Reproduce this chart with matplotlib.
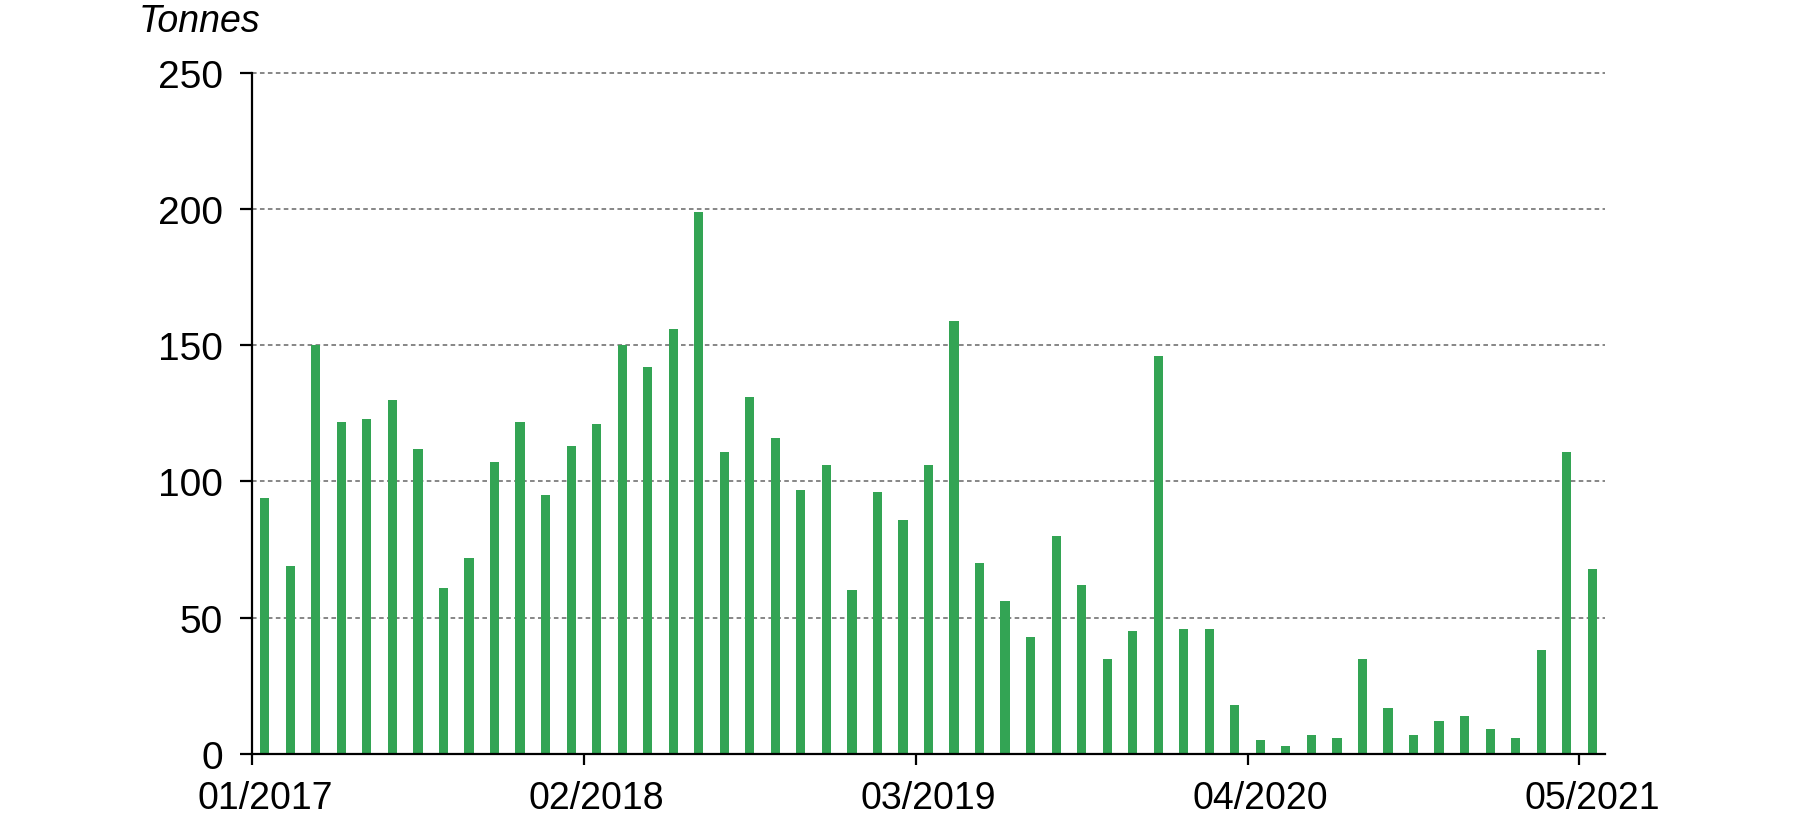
import matplotlib
matplotlib.use("Agg")
import matplotlib.pyplot as plt
import numpy as np

plt.rcParams['font.family'] = ['Liberation Sans', 'DejaVu Sans']

months = [f"{m:02d}/{y}" for y in range(2017, 2022) for m in range(1, 13)][:53]
values = [94, 69, 150, 122, 123, 130, 112, 61, 72, 107, 122, 95,
          113, 121, 150, 142, 156, 199, 111, 131, 116, 97, 106, 60,
          96, 86, 106, 159, 70, 56, 43, 80, 62, 35, 45, 146,
          46, 46, 18, 5, 3, 7, 6, 35, 17, 7, 12, 14,
          9, 6, 38, 111, 68]
tick_labels = ["01/2017", "02/2018", "03/2019", "04/2020", "05/2021"]
y_ticks = [0, 50, 100, 150, 200, 250]
unit_label = "Tonnes"

fig = plt.figure(figsize=(18.07, 8.2), dpi=100)
ax = fig.add_axes([252/1807, 1-755/820, (1605-252)/1807, (755-73.7)/820])

x = np.arange(len(values))
ax.bar(x, values, width=0.36, color='#33a454', zorder=3)

ax.set_xlim(-0.5, len(values) - 0.5)
ax.set_ylim(0, 250)
ax.set_yticks(y_ticks)
ax.set_yticklabels([str(v) for v in y_ticks])

label_pos = [months.index(t) for t in tick_labels]
ax.set_xticks([p - 0.5 for p in label_pos])
ax.set_xticklabels([''] * len(label_pos))
ax.set_xticks(label_pos, minor=True)
ax.set_xticklabels(tick_labels, minor=True)

for v in y_ticks[1:]:
    ax.axhline(v, color='#666666', lw=1.1, ls=(0, (3, 2.2)), zorder=1, clip_on=False)

for s in ['top', 'right']:
    ax.spines[s].set_visible(False)
for s in ['left', 'bottom']:
    ax.spines[s].set_linewidth(1.6)
    ax.spines[s].set_color('black')
ax.spines['bottom'].set_zorder(4)

ax.tick_params(axis='y', length=9, width=1.6, pad=12, labelsize=28, direction='out')
ax.tick_params(axis='x', which='major', length=8, width=1.6, direction='out')
ax.tick_params(axis='x', which='minor', length=0, pad=19, labelsize=27)

fig.text(139/1807, 1-22/820, unit_label, fontsize=27, style='italic',
         ha='left', va='center')

fig.savefig("out.png", dpi=100)
